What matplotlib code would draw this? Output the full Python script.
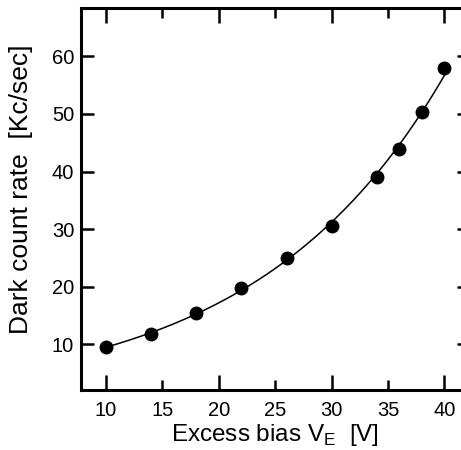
import matplotlib
matplotlib.use('Agg')
import matplotlib.pyplot as plt
import numpy as np

plt.rcParams['font.family'] = ['Liberation Sans', 'DejaVu Sans']
plt.rcParams['mathtext.fontset'] = 'custom'
plt.rcParams['mathtext.rm'] = 'Liberation Sans'

# excess bias (V) and measured dark count rate (kc/s)
bias = [10, 14, 18, 22, 26, 30, 34, 36, 38, 40]
rate = [9.5, 11.7, 15.4, 19.8, 25.0, 30.6, 39.0, 43.9, 50.4, 58.0]

xmajor = [10, 20, 30, 40]
xminor = [15, 25, 35]
yticks = [10, 20, 30, 40, 50, 60]

fig = plt.figure(figsize=(4.61, 4.5), dpi=100)
ax = fig.add_axes([0.176, 0.133, 0.842, 0.849])

# smooth fit through the points (fitted in log space)
coef = np.polyfit(bias, np.log(rate), 2)
xs = np.linspace(min(bias), max(bias), 200)
ax.plot(xs, np.exp(np.polyval(coef, xs)), color='black', lw=1.1)
ax.plot(bias, rate, 'o', color='black', ms=9)

ax.set_xlim(7.8, 42.2)
ax.set_ylim(2, 68.4)
ax.set_xticks(xmajor, labels=[str(t) for t in xmajor])
ax.set_xticks(xminor, labels=[str(t) for t in xminor], minor=True)
ax.set_yticks(yticks)

ax.tick_params(axis='both', which='both', direction='in', width=1.8,
               top=True, right=True, labelsize=14.5)
ax.tick_params(axis='x', which='major', length=11, pad=8)
ax.tick_params(axis='x', which='minor', length=7, pad=8)
ax.tick_params(axis='y', length=9, pad=5)
for s in ax.spines.values():
    s.set_linewidth(2.2)

ax.set_xlabel(r'Excess bias V$_\mathregular{E}$  [V]', fontsize=17.5, labelpad=1)
ax.set_ylabel('Dark count rate  [Kc/sec]', fontsize=19)
ax.yaxis.set_label_coords(-0.125, 0.525)

fig.savefig('out.png', dpi=100)
